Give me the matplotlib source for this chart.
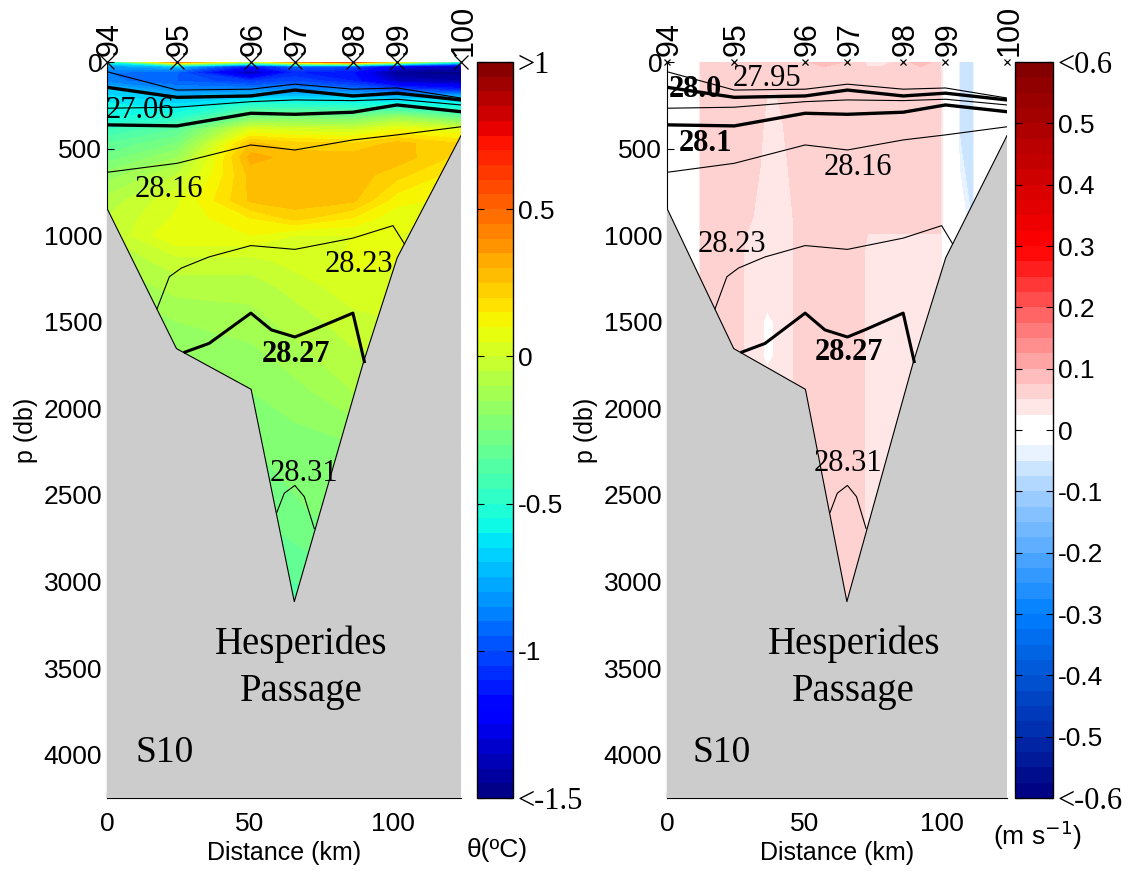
import numpy as np
import matplotlib
matplotlib.use('Agg')
import matplotlib.pyplot as plt
from matplotlib.colors import LinearSegmentedColormap
from matplotlib.transforms import blended_transform_factory

plt.rcParams['font.family'] = 'Liberation Sans'

# stations along the section
stations = ['94', '95', '96', '97', '98', '99', '100']
station_km = [0, 24.5, 50.3, 65.7, 86, 101.4, 123.8]

# bottom topography
bathy_km = [0, 24.3, 50.4, 65.5, 89.6, 101.5, 123.8]
bathy_db = [845, 1655, 1890, 3116, 1738, 1130, 425]

# potential temperature (deg C), rows = depth, columns = stations
temp_db = [0, 25, 60, 110, 160, 210, 260, 320, 390, 470, 550, 650, 800, 900,
           1000, 1150, 1300, 1500, 1700, 1900, 2200, 2600, 3000, 3200]
temp_table = [
    [-0.55, 0.45, -0.10, 0.40, 0.60, 0.10, -0.50],
    [-0.80, -0.70, -1.15, -0.95, -1.00, -1.25, -1.35],
    [-0.90, -0.95, -1.40, -1.10, -1.15, -1.45, -1.48],
    [-0.88, -0.95, -1.05, -1.00, -1.10, -1.35, -1.40],
    [-0.70, -0.85, -0.85, -0.85, -0.90, -1.00, -1.10],
    [-0.62, -0.70, -0.65, -0.65, -0.65, -0.70, -0.65],
    [-0.58, -0.62, -0.45, -0.45, -0.48, -0.50, -0.55],
    [-0.55, -0.50, -0.25, -0.25, -0.25, -0.15, -0.30],
    [-0.45, -0.35, 0.05, 0.02, 0.00, 0.10, 0.05],
    [-0.35, -0.25, 0.26, 0.22, 0.20, 0.27, 0.20],
    [-0.28, -0.15, 0.32, 0.28, 0.28, 0.28, 0.18],
    [-0.18, -0.05, 0.27, 0.28, 0.28, 0.22, 0.12],
    [-0.08, 0.04, 0.26, 0.28, 0.26, 0.12, 0.08],
    [-0.05, 0.06, 0.15, 0.22, 0.15, 0.06, 0.05],
    [-0.05, 0.10, 0.10, 0.05, 0.05, 0.05, 0.05],
    [-0.10, -0.02, -0.02, 0.02, 0.06, 0.06, 0.05],
    [-0.15, -0.08, -0.08, -0.03, 0.03, 0.03, 0.03],
    [-0.20, -0.15, -0.12, -0.08, -0.02, 0.00, 0.00],
    [-0.22, -0.20, -0.17, -0.12, -0.06, -0.05, -0.05],
    [-0.25, -0.22, -0.20, -0.17, -0.10, -0.10, -0.10],
    [-0.28, -0.26, -0.25, -0.22, -0.20, -0.20, -0.20],
    [-0.32, -0.30, -0.30, -0.26, -0.22, -0.22, -0.22],
    [-0.40, -0.40, -0.38, -0.35, -0.30, -0.30, -0.30],
    [-0.45, -0.45, -0.42, -0.40, -0.35, -0.35, -0.35],
]

# velocity (m/s), rows = depth, columns = distance
W, L, D, R, B = 0.01, 0.035, 0.062, 0.09, -0.06
vel_km = [0, 11.5, 12.5, 27, 29, 34, 36.5, 40, 44, 47.5, 57, 71, 73, 78,
          92.5, 99.5, 100.5, 105.5, 106.5, 111.5, 112.5, 123.8]
vel_db = [0, 50, 350, 900, 1100, 1400, 1500, 1700, 1800, 3200]
vel_table = [
    [W, W, D, D, D, D, D, D, D, D, R, D, L, L, R, D, W, W, B, B, W, W],
    [W, W, D, D, D, D, D, D, D, D, D, D, D, D, D, D, W, W, B, B, W, W],
    [W, W, D, D, D, D, L, L, D, D, D, D, D, D, D, D, W, W, B, B, W, W],
    [W, W, D, D, D, L, L, L, L, D, D, D, D, D, D, D, W, W, W, B, W, W],
    [W, W, D, D, L, L, L, L, L, D, D, D, L, L, L, L, W, W, W, W, W, W],
    [W, W, D, D, L, L, L, L, L, D, D, D, L, L, L, L, W, W, W, W, W, W],
    [W, W, D, D, L, L, W, L, L, D, D, D, L, L, L, L, W, W, W, W, W, W],
    [W, W, D, D, L, L, W, L, L, D, D, D, L, L, L, L, W, W, W, W, W, W],
    [W, W, D, D, L, L, L, L, L, D, D, D, L, L, L, L, W, W, W, W, W, W],
    [W, W, D, D, L, L, L, L, L, D, D, D, L, L, L, L, W, W, W, W, W, W],
]

# isopycnals (depth in db); the upper ones are given at the stations
iso_2795 = [56, 162, 157, 128, 157, 150, 208]
iso_2800 = [146, 204, 196, 162, 196, 180, 219]
iso_2805 = [267, 261, 229, 219, 223, 215, 248]
iso_2810 = [363, 369, 296, 302, 290, 248, 287]
iso_2816 = [637, 585, 479, 508, 450, 421, 374]
iso_2823_km = [17.5, 21.8, 26, 35.6, 50.3, 65.7, 86, 100, 104]
iso_2823_db = [1425, 1240, 1190, 1126, 1060, 1082, 1017, 945, 1050]
iso_2827_km = [27.3, 35.7, 50.3, 57.5, 65.7, 72, 86, 90]
iso_2827_db = [1675, 1625, 1450, 1547, 1588, 1547, 1450, 1730]
iso_2831_km = [59.4, 62, 65.7, 69, 72.5]
iso_2831_db = [2600, 2490, 2445, 2510, 2695]

fig = plt.figure(figsize=(11.35, 8.72), dpi=100)
W_PX, H_PX = 1135, 872


def box(x0, x1, y0=62, y1=798):
    return [x0 / W_PX, 1 - y1 / H_PX, (x1 - x0) / W_PX, (y1 - y0) / H_PX]


ax1 = fig.add_axes(box(107, 461))
cax1 = fig.add_axes(box(477, 513))
ax2 = fig.add_axes(box(667, 1007))
cax2 = fig.add_axes(box(1015, 1053))

# colour maps
t_levels = np.linspace(-1.5, 1.0, 51)
v_levels = np.linspace(-0.6, 0.6, 49)


def vfrac(v):
    return (v + 0.6) / 1.2


vel_cmap = LinearSegmentedColormap.from_list('vel', [
    (0.0, (0.0, 0.0, 0.5)),
    (vfrac(-0.3), (0.0, 0.5, 1.0)),
    (vfrac(-0.1), (0.65, 0.82, 1.0)),
    (vfrac(-0.0125), (1, 1, 1)),
    (vfrac(0.0125), (1, 1, 1)),
    (vfrac(0.3), (1.0, 0.0, 0.0)),
    (1.0, (0.5, 0.0, 0.0)),
])

cf1 = ax1.contourf(station_km, temp_db, temp_table, levels=t_levels, cmap='jet', zorder=1)
cf2 = ax2.contourf(vel_km, vel_db, vel_table, levels=v_levels, cmap=vel_cmap,
                   vmin=-0.6, vmax=0.6, zorder=1)

serif = 'Liberation Serif'

for ax, mark_size in [(ax1, 10), (ax2, 5)]:
    # bottom
    ax.fill(np.r_[bathy_km, bathy_km[-1] + 5, bathy_km[0] - 5],
            np.r_[bathy_db, 4500, 4500], color='#cccccc', lw=0, zorder=3)
    ax.plot(bathy_km, bathy_db, color='k', lw=0.8, zorder=4)

    # isopycnals
    ax.plot(station_km, iso_2795, color='k', lw=0.8, zorder=5)
    ax.plot(station_km, iso_2800, color='k', lw=2.4, zorder=5)
    ax.plot(station_km, iso_2805, color='k', lw=0.8, zorder=5)
    ax.plot(station_km, iso_2810, color='k', lw=2.4, zorder=5)
    ax.plot(station_km, iso_2816, color='k', lw=0.8, zorder=5)
    ax.plot(iso_2823_km, iso_2823_db, color='k', lw=0.8, zorder=5)
    ax.plot(iso_2827_km, iso_2827_db, color='k', lw=2.2, zorder=5)
    ax.plot(iso_2831_km, iso_2831_db, color='k', lw=0.8, zorder=5)

    # stations
    ax.plot(station_km, np.zeros(len(station_km)), 'x', color='k', ms=mark_size,
            mew=0.9, clip_on=False, zorder=6)
    trans = blended_transform_factory(ax.transData, ax.transAxes)
    for s, x in zip(stations, station_km):
        ax.text(x + 1, 1.008, s, transform=trans, rotation=90, ha='center',
                va='bottom', fontsize=22)

    ax.set_xlim(0, 123.8)
    ax.set_ylim(4250, 0)
    ax.set_xticks([0, 50, 100])
    ax.set_yticks(np.arange(0, 4001, 500))
    ax.tick_params(direction='in', length=5, labelsize=19, top=False, right=False)
    ax.tick_params(axis='x', pad=10)
    ax.spines['top'].set_visible(False)
    ax.spines['right'].set_visible(False)
    ax.set_xlabel('Distance (km)', fontsize=18, labelpad=4)
    ax.set_ylabel('p (db)', fontsize=18, labelpad=4)

    ax.text(20, 3990, 'S10', family=serif, fontsize=27, ha='center', va='center', zorder=7)
    ax.text(68, 3500, 'Hesperides\nPassage', family=serif, fontsize=28, ha='center',
            va='center', multialignment='center', linespacing=1.35, zorder=7)

# contour labels, left panel
lab = dict(family=serif, fontsize=22, ha='center', va='center', zorder=7)
ax1.text(11.5, 280, '27.06', **lab)
ax1.text(21.7, 735, '28.16', **lab)
ax1.text(88, 1172, '28.23', **lab)
ax1.text(66, 1690, '28.27', fontweight='bold', **lab)
ax1.text(69, 2376, '28.31', **lab)

# contour labels, right panel
ax2.text(36.5, 95, '27.95', **lab)
ax2.text(10.5, 160, '28.0', fontweight='bold', **lab)
ax2.text(14, 470, '28.1', fontweight='bold', **lab)
ax2.text(69.5, 610, '28.16', **lab)
ax2.text(23.5, 1055, '28.23', **lab)
ax2.text(66.4, 1677, '28.27', fontweight='bold', **lab)
ax2.text(66, 2318, '28.31', **lab)

# colour bars
cb1 = fig.colorbar(cf1, cax=cax1)
cb1.set_ticks([1, 0.5, 0, -0.5, -1, -1.5], labels=['>1', '0.5', '0', '-0.5', '-1', '<-1.5'])
cb2 = fig.colorbar(cf2, cax=cax2)
v_ticks = [0.6, 0.5, 0.4, 0.3, 0.2, 0.1, 0, -0.1, -0.2, -0.3, -0.4, -0.5, -0.6]
v_labels = ['<0.6', '0.5', '0.4', '0.3', '0.2', '0.1', '0', '-0.1', '-0.2', '-0.3',
            '-0.4', '-0.5', '<-0.6']
cb2.set_ticks(v_ticks, labels=v_labels)
for cb in (cb1, cb2):
    cb.outline.set_linewidth(1)
    cb.ax.tick_params(direction='in', left=True, right=True, length=5, labelsize=19)
    for t in cb.ax.get_yticklabels():
        if t.get_text()[0] in '<>':
            t.set_fontfamily(serif)
            t.set_fontsize(22)

fig.text(497 / W_PX, 1 - 850 / H_PX, 'θ(ºC)', ha='center', va='center', fontsize=19)
fig.text(1037 / W_PX, 1 - 835 / H_PX, '(m s$^{-1}$)', ha='center', va='center', fontsize=19)

fig.savefig('out.png', dpi=100)
